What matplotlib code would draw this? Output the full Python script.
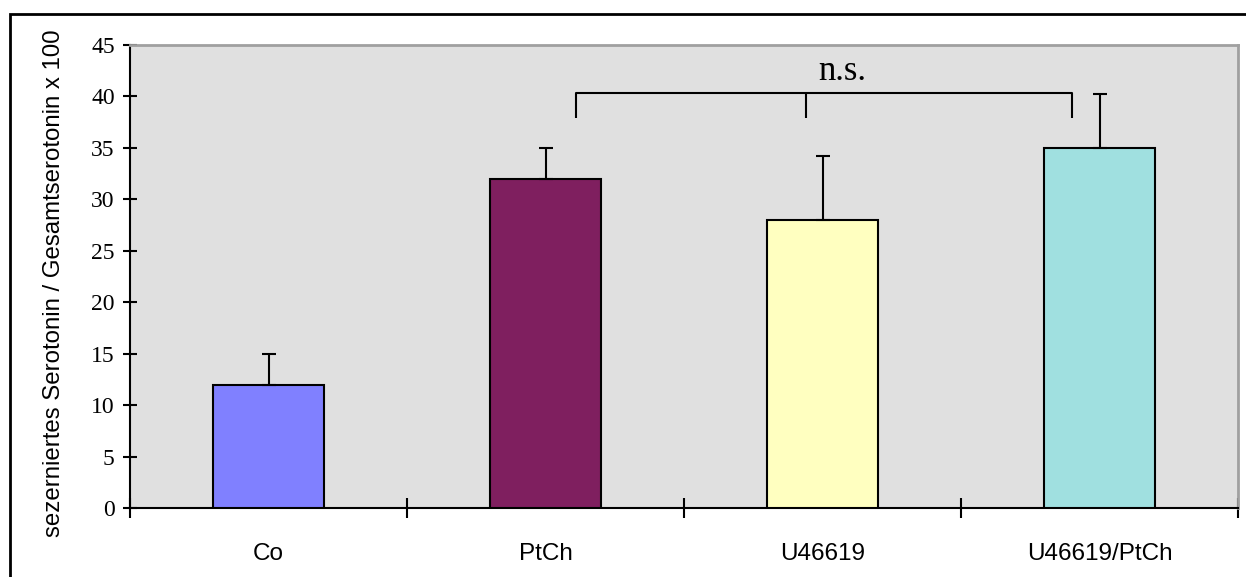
import matplotlib.pyplot as plt
from matplotlib.patches import Rectangle

# data
groups = ["Co", "PtCh", "U46619", "U46619/PtCh"]
means = [12, 32, 28, 35]
errs = [3, 3, 6.2, 5.2]
colors = ["#8080FF", "#7F1F5F", "#FFFFC0", "#A0E0E0"]

bracket_x = [1.11, 1.94, 2.90]
bracket_top = 40.3
bracket_bottom = 37.9
sig_label = "n.s."

fig = plt.figure(figsize=(12.46, 5.77), dpi=100)
ax = fig.add_axes([130 / 1246, 1 - 508 / 577, (1238 - 130) / 1246, (508 - 45) / 577])

# frame around whole chart (runs past right / bottom edge)
fig.patches.append(Rectangle((10 / 1246, -0.1), 1.2, 1 - 14 / 577 + 0.1,
                             transform=fig.transFigure, fill=False,
                             edgecolor="black", linewidth=2))

ax.set_facecolor("#E0E0E0")
xs = range(len(groups))
ax.bar(xs, means, width=0.4, color=colors, edgecolor="black", linewidth=1.5, zorder=3)
ax.errorbar(xs, means, yerr=[[0] * len(means), errs], fmt="none",
            ecolor="black", elinewidth=1.5, capsize=5, capthick=1.5, zorder=4)

# significance bracket
lw = 1.5
ax.plot([bracket_x[0], bracket_x[0], bracket_x[2], bracket_x[2]],
        [bracket_bottom, bracket_top, bracket_top, bracket_bottom],
        color="black", lw=lw, zorder=5, solid_capstyle="butt")
ax.plot([bracket_x[1], bracket_x[1]], [bracket_bottom, bracket_top],
        color="black", lw=lw, zorder=5, solid_capstyle="butt")
ax.text(2.07, 40.8, sig_label, ha="center", va="bottom",
        fontsize=25, family="Liberation Serif")

ax.set_xlim(-0.5, 3.5)
ax.set_ylim(0, 45)
ax.set_yticks(range(0, 46, 5))
ax.set_yticklabels([str(v) for v in range(0, 46, 5)],
                   family="Liberation Serif", fontsize=17)
ax.set_xticks([i + 0.5 for i in range(-1, 4)])
ax.set_xticklabels([])
ax.set_xticks(list(xs), minor=True)
ax.set_xticklabels(groups, minor=True, family="Liberation Sans", fontsize=17.5)
ax.tick_params(axis="x", which="major", direction="inout", length=14, width=1.5)
ax.tick_params(axis="x", which="minor", length=0, pad=25)
ax.tick_params(axis="y", direction="inout", length=10, width=1.5, pad=6)

for side in ["top", "right"]:
    ax.spines[side].set_color("#A0A0A0")
    ax.spines[side].set_linewidth(2)
ax.spines["left"].set_linewidth(1.5)
ax.spines["bottom"].set_linewidth(1.5)

ax.set_ylabel("sezerniertes Serotonin / Gesamtserotonin x 100",
              family="Liberation Sans", fontsize=17.3, va="center")
ax.yaxis.set_label_coords(-0.0686, 0.485)

fig.savefig("out.png", dpi=100)
